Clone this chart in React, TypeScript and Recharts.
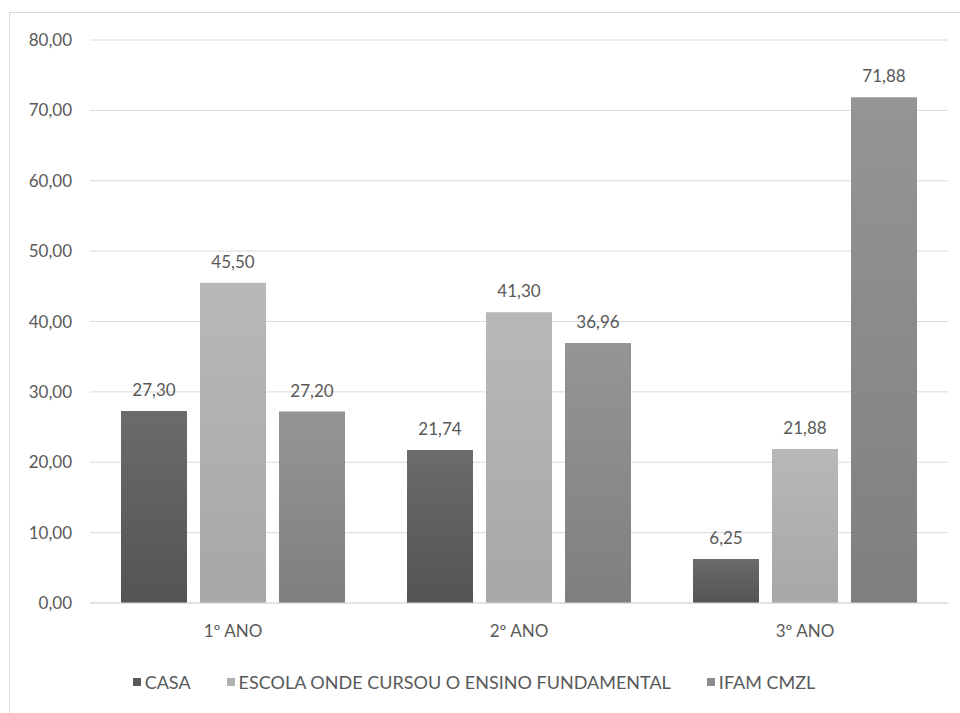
import React from 'react';
import { BarChart, Bar, XAxis, YAxis, CartesianGrid, Legend, LabelList } from 'recharts';

const categories = ['1º ANO', '2º ANO', '3º ANO'];
const casa = [27.3, 21.74, 6.25];
const escola = [45.5, 41.3, 21.88];
const ifam = [27.2, 36.96, 71.88];
const yTicks = [0, 10, 20, 30, 40, 50, 60, 70, 80];

const series = [
  { key: 'casa', name: 'CASA', top: '#6b6b6b', bottom: '#545454', swatch: '#595959' },
  { key: 'escola', name: 'ESCOLA ONDE CURSOU O ENSINO FUNDAMENTAL', top: '#b8b8b8', bottom: '#a7a7a7', swatch: '#b0b0b0' },
  { key: 'ifam', name: 'IFAM CMZL', top: '#959595', bottom: '#7f7f7f', swatch: '#8c8c8c' },
];

const data = categories.map((c, i) => ({
  name: c,
  casa: casa[i],
  escola: escola[i],
  ifam: ifam[i],
}));

const fmt = (v: number) => v.toFixed(2).replace('.', ',');
const textColor = '#595959';
const font = 'Lato, "Open Sans", sans-serif';

const LegendContent = () => (
  <div style={{ display: 'flex', justifyContent: 'center', gap: 36, fontFamily: font, fontSize: 18, color: textColor, height: 22, alignItems: 'center' }}>
    {series.map(s => (
      <div key={s.key} style={{ display: 'flex', alignItems: 'center' }}>
        <span style={{ display: 'inline-block', width: 8, height: 8, background: s.swatch, marginRight: 4 }} />
        <span>{s.name}</span>
      </div>
    ))}
  </div>
);

export default function App() {
  return (
    <div style={{ position: 'absolute', left: 0, top: 0, width: 960, height: 713, background: '#fff' }}>
      <div style={{ position: 'absolute', left: 9, top: 12, width: 951, height: 701, borderTop: '1px solid #d9d9d9', borderLeft: '1px solid #d9d9d9' }} />
      <BarChart
        width={960}
        height={713}
        data={data}
        margin={{ top: 40, right: 12, left: 0, bottom: 43 }}
        barCategoryGap={31}
        barGap={13}
      >
        <defs>
          {series.map(s => (
            <linearGradient key={s.key} id={`g-${s.key}`} x1="0" y1="0" x2="0" y2="1">
              <stop offset="0%" stopColor={s.top} />
              <stop offset="100%" stopColor={s.bottom} />
            </linearGradient>
          ))}
        </defs>
        <CartesianGrid vertical={false} stroke="#d9d9d9" />
        <XAxis
          dataKey="name"
          stroke="#d9d9d9"
          tickLine={false}
          tickMargin={16}
          height={45}
          tick={{ fill: textColor, fontSize: 17, fontFamily: font }}
        />
        <YAxis
          domain={[0, 80]}
          ticks={yTicks}
          width={90}
          axisLine={false}
          tickLine={false}
          tickMargin={12}
          tickFormatter={fmt}
          tick={{ fill: textColor, fontSize: 17, fontFamily: font }}
        />
        <Legend verticalAlign="bottom" content={<LegendContent />} wrapperStyle={{ bottom: 20 }} />
        {series.map(s => (
          <Bar key={s.key} dataKey={s.key} name={s.name} fill={`url(#g-${s.key})`} isAnimationActive={false}>
            <LabelList
              dataKey={s.key}
              position="top"
              offset={15}
              formatter={(v: any) => fmt(Number(v))}
              style={{ fill: textColor, fontSize: 17, fontFamily: font }}
            />
          </Bar>
        ))}
      </BarChart>
    </div>
  );
}
